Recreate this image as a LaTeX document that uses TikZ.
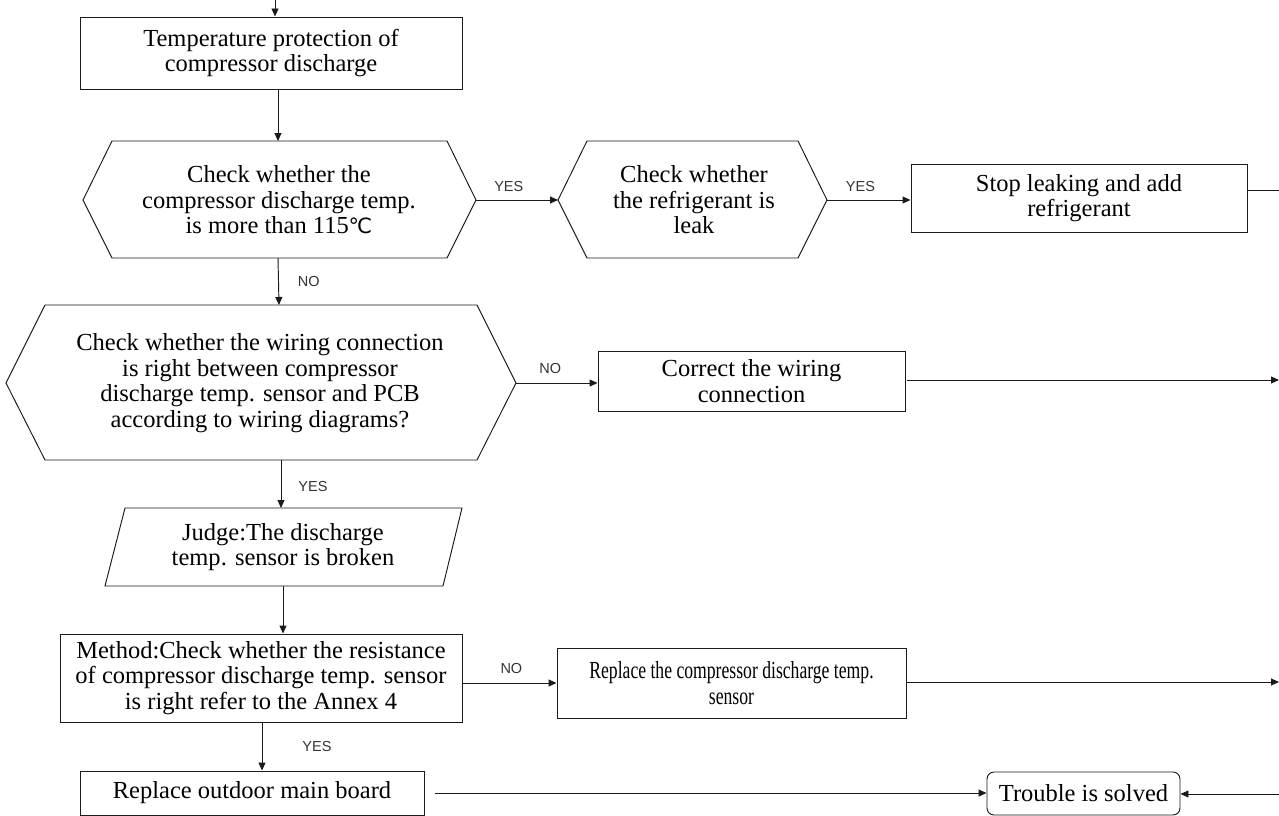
\documentclass[tikz,border=0pt]{standalone}
\usepackage{fontspec}
\setmainfont{Liberation Serif}
\newfontfamily\lblfont{Liberation Sans}
\newfontfamily\symfont{DejaVu Sans}
\newfontfamily\condserif[FakeStretch=0.72]{Liberation Serif}
\usetikzlibrary{arrows.meta}
\definecolor{lblgray}{HTML}{333333}
\definecolor{lncol}{HTML}{1A1A1A}
\tikzset{
  ln/.style={line width=0.95pt, draw=lncol},
  arr/.style={ln, -{Triangle[length=8pt,width=7pt]}},
  box/.style={ln, rectangle, inner sep=0pt, align=center, font=\fontsize{24.5}{25.5}\selectfont},
  txt/.style={inner sep=0pt, align=center, font=\fontsize{24.5}{25.5}\selectfont},
  lbl/.style={inner sep=0pt, text=lblgray, font=\lblfont\fontsize{14.5}{16}\selectfont},
}
\begin{document}
\begin{tikzpicture}[x=1pt,y=-1pt]
\useasboundingbox (0,0) rectangle (1279,816);
% top entry
\coordinate (top) at (275,0);
\node[box, minimum width=382pt, minimum height=72pt] (b1) at (271,53) {Temperature protection of\\compressor discharge};
% hexagon 1
\coordinate (h1w) at (83,200); \coordinate (h1e) at (476,200);
\coordinate (h1n) at (278,141); \coordinate (h1s) at (278,258);
\draw[ln] (h1w) -- (112,141) -- (447,141) -- (h1e) -- (447,258) -- (112,258) -- cycle;
\node[txt] (h1) at (279,200) {Check whether the\\compressor discharge temp.\\is more than 115{\symfont\fontsize{21}{21}\selectfont ℃}};
% hexagon 2
\coordinate (h2w) at (558,200); \coordinate (h2e) at (827,200);
\draw[ln] (h2w) -- (587,141) -- (798,141) -- (h2e) -- (798,258) -- (587,258) -- cycle;
\node[txt] (h2) at (694,200) {Check whether\\the refrigerant is\\leak};
% stop leaking
\node[box, minimum width=336pt, minimum height=68pt] (b2) at (1079,198) {Stop leaking and add\\refrigerant};
\coordinate (b2out) at (1279,190);
% hexagon 3
\coordinate (h3w) at (6,383); \coordinate (h3e) at (516,383);
\coordinate (h3n) at (279,305); \coordinate (h3s) at (281,460);
\draw[ln] (h3w) -- (45,305) -- (477,305) -- (h3e) -- (477,460) -- (45,460) -- cycle;
\node[txt] (h3) at (260,383) {Check whether the wiring connection\\is right between compressor\\discharge temp. sensor and PCB\\according to wiring diagrams?};
% correct wiring
\node[box, minimum width=307pt, minimum height=60pt] (b3) at (751.5,381) {Correct the wiring\\connection};
\coordinate (b3out) at (1279,380);
% parallelogram
\coordinate (pn) at (281,508); \coordinate (ps) at (283,586);
\draw[ln] (125,508) -- (462,508) -- (443,586) -- (105,586) -- cycle;
\node[txt] (p) at (283,547) {Judge:The discharge\\temp. sensor is broken};
% method
\node[box, minimum width=402pt, minimum height=88pt] (b4) at (261,678) {Method:Check whether the resistance\\of compressor discharge temp. sensor\\is right refer to the Annex 4};
% replace sensor
\node[box, minimum width=349pt, minimum height=70pt, font=\condserif\fontsize{24.5}{25.5}\selectfont] (b5) at (731.5,683) {Replace the compressor discharge temp.\\sensor};
\coordinate (b5out) at (1279,682);
% replace board
\node[box, minimum width=344pt, minimum height=44pt] (b6) at (252,793) {Replace outdoor main board};
% trouble solved
\node[box, rounded corners=7pt, minimum width=193pt, minimum height=43pt] (b7) at (1083.5,793.5) {Trouble is solved};
\coordinate (b7in) at (1279,794);

% connectors
\draw[arr] (top) -- (b1.north -| top);
\draw[arr] (b1.south -| h1n) -- (h1n);
\draw[arr] (h1e) -- node[lbl, above=8pt, pos=0.4] {YES} (h2w);
\draw[arr] (h2e) -- node[lbl, above=8pt, pos=0.4] {YES} (b2.west |- h2e);
\draw[ln] (b2.east |- b2out) -- (b2out);
\draw[arr] (h1s) -- node[lbl, anchor=west, xshift=19pt, pos=0.5] {NO} (h3n);
\draw[arr] (h3e) -- node[lbl, above=9pt, pos=0.42] {NO} (b3.west |- h3e);
\draw[arr] ([xshift=2pt]b3.east |- b3out) -- (b3out);
\draw[arr] (h3s) -- node[lbl, anchor=west, xshift=17pt, pos=0.55] {YES} (pn);
\draw[arr] (ps) -- (b4.north -| ps);
\draw[arr] (b4.east |- b5.west) -- node[lbl, above=9pt, pos=0.52] {NO} (b5.west);
\draw[arr] (b5.east |- b5out) -- (b5out);
\draw[arr] (b4.south -| 262,0) -- node[lbl, anchor=west, xshift=40pt, pos=0.5] {YES} (b6.north -| 262,0);
\draw[arr] ([xshift=11pt]b6.east) -- (b7.west |- b6.east);
\draw[arr] (b7in) -- (b7.east |- b7in);
\end{tikzpicture}
\end{document}
